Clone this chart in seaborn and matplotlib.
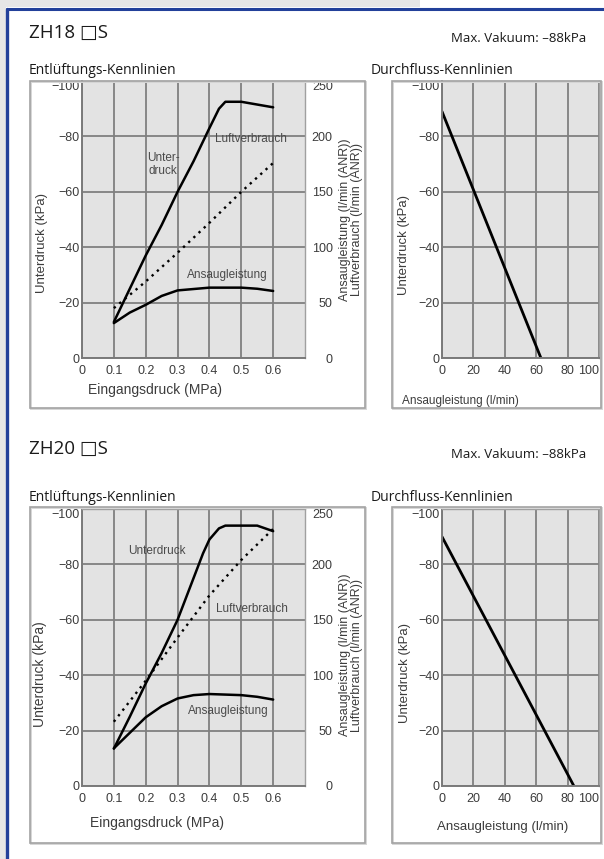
import matplotlib
matplotlib.use("Agg")
import matplotlib.pyplot as plt
import seaborn as sns
import pandas as pd
from matplotlib.patches import Rectangle
from matplotlib.lines import Line2D

# ---------------- data ----------------
titles = ["ZH18 \u25a1S", "ZH20 \u25a1S"]
max_vac = "Max. Vakuum: \u201388kPa"
left_title = "Entlüftungs-Kennlinien"
right_title = "Durchfluss-Kennlinien"

# ZH18 exhaust characteristics
unter18_p = [0.1, 0.15, 0.2, 0.25, 0.3, 0.35, 0.4, 0.43, 0.45, 0.5, 0.55, 0.6]
unter18 = [-13, -25, -37, -48, -60, -71, -83, -90, -92.5, -92.5, -91.5, -90.5]
ansaug18_p = [0.1, 0.15, 0.2, 0.25, 0.3, 0.4, 0.5, 0.55, 0.6]
ansaug18 = [31.5, 41, 48, 56, 61, 63.5, 63.5, 62.5, 60.5]
luft18_p = [0.1, 0.2, 0.3, 0.4, 0.5, 0.6]
luft18 = [45, 69, 95, 122, 150, 176]
# ZH18 flow characteristics
flow18 = [0, 63]
flowvac18 = [-89, 0]

# ZH20 exhaust characteristics
unter20_p = [0.1, 0.15, 0.2, 0.25, 0.3, 0.35, 0.38, 0.4, 0.43, 0.45, 0.5, 0.55, 0.6]
unter20 = [-13.5, -25, -37, -48, -60, -75, -84, -89, -93, -94, -94, -94, -92]
ansaug20_p = [0.1, 0.15, 0.2, 0.25, 0.3, 0.35, 0.4, 0.5, 0.55, 0.6]
ansaug20 = [34, 48, 62, 72, 79, 82, 83, 82, 80.5, 78]
luft20_p = [0.1, 0.2, 0.3, 0.4, 0.5, 0.6]
luft20 = [58, 95, 134, 172, 204, 232]
# ZH20 flow characteristics
flow20 = [0, 84]
flowvac20 = [-90, 0]

kpa_ticks = [0, -20, -40, -60, -80, -100]
kpa_labels = ["0", "\u221220", "\u221240", "\u221260", "\u221280", "\u2212100"]
mpa_ticks = [0, 0.1, 0.2, 0.3, 0.4, 0.5, 0.6]
mpa_labels = ["0", "0.1", "0.2", "0.3", "0.4", "0.5", "0.6"]
lmin_ticks = [0, 50, 100, 150, 200, 250]
lmin_labels = ["0", "50", "100", "150", "200", "250"]
flow_ticks = [0, 20, 40, 60, 80, 100]
flow_labels = ["0", "20", "40", "60", "80", "100"]

# ---------------- figure ----------------
W, H = 604, 859
sns.set_theme(style="white")
plt.rcParams['font.family'] = ['Liberation Sans', 'DejaVu Sans']

fig = plt.figure(figsize=(W / 100, H / 100), dpi=100)
fig.patch.set_facecolor("white")


def fx(x):
    return x / W


def fy(y):
    return 1 - y / H


BLUE = "#22409a"
GRAYBG = "#e6e6e6"
HEAD = ['Open Sans', 'DejaVu Sans']
SMALL = ['Liberation Sans', 'DejaVu Sans']
TXT = "#3c3c3c"

# page decorations
fig.add_artist(Rectangle((0, 0), fx(6), 1, transform=fig.transFigure,
                         facecolor=GRAYBG, edgecolor="none", zorder=0))
fig.add_artist(Rectangle((0, fy(7)), fx(420), 7 / H, transform=fig.transFigure,
                         facecolor=GRAYBG, edgecolor="none", zorder=0))
fig.add_artist(Line2D([fx(7), 1], [fy(8.5), fy(8.5)], transform=fig.transFigure,
                      color=BLUE, lw=2.2, zorder=5))
fig.add_artist(Line2D([fx(7.2), fx(7.2)], [0, fy(8.5)], transform=fig.transFigure,
                      color=BLUE, lw=2.4, zorder=5))


def box(l, t, r, b):
    fig.add_artist(Rectangle((fx(l + 1.2), fy(b + 1.2)), fx(r - l), (b - t) / H,
                             transform=fig.transFigure, facecolor="none",
                             edgecolor="#d6d6d6", lw=1.4, zorder=1))
    fig.add_artist(Rectangle((fx(l), fy(b)), fx(r - l), (b - t) / H,
                             transform=fig.transFigure, facecolor="none",
                             edgecolor="#a3a3a3", lw=1.2, zorder=6))


def make_ax(l, t, r, b):
    return fig.add_axes([fx(l), fy(b), fx(r - l), (b - t) / H])


def style_ax(ax):
    ax.set_facecolor("#e3e3e3")
    ax.grid(True, color="#808080", lw=1.3)
    ax.set_axisbelow(True)
    for s in ["left", "bottom"]:
        ax.spines[s].set_color("#7a7a7a")
        ax.spines[s].set_linewidth(1.4)
    for s in ["top", "right"]:
        ax.spines[s].set_color("#a0a0a0")
        ax.spines[s].set_linewidth(1.0)
    ax.tick_params(length=0, labelsize=9, labelcolor=TXT)
    ax.tick_params(axis="y", pad=1.5)
    ax.tick_params(axis="x", pad=5)
    ax.set_xlabel("")
    ax.set_ylabel("")


def exhaust_panel(top, unter_p, unter, ans_p, ans, luf_p, luf, notes):
    t, b = top, top + 277
    ax = make_ax(82, t, 305, b)
    d1 = pd.DataFrame({"p": unter_p, "v": unter})
    sns.lineplot(data=d1, x="p", y="v", ax=ax, color="black", lw=1.8)
    ax.set_xlim(0, 0.7)
    ax.set_ylim(0, -100)
    ax.set_xticks(mpa_ticks)
    ax.set_xticklabels(mpa_labels)
    ax.set_yticks(kpa_ticks)
    ax.set_yticklabels(kpa_labels)
    style_ax(ax)
    ax.yaxis.get_major_ticks()[-1].label1.set_va("top")

    ax2 = ax.twinx()
    d2 = pd.DataFrame({"p": ans_p, "v": ans})
    d3 = pd.DataFrame({"p": luf_p, "v": luf})
    sns.lineplot(data=d2, x="p", y="v", ax=ax2, color="black", lw=1.8)
    sns.lineplot(data=d3, x="p", y="v", ax=ax2, color="black", lw=1.7,
                 linestyle=(0, (1.0, 2.0)))
    ax2.set_ylim(0, 250)
    ax2.set_yticks(lmin_ticks)
    ax2.set_yticklabels(lmin_labels)
    ax2.tick_params(length=0, labelsize=9, labelcolor=TXT, pad=20)
    for lab in ax2.get_yticklabels():
        lab.set_ha("right")
    ax2.yaxis.get_major_ticks()[-1].label2.set_va("top")
    ax2.set_xlabel("")
    ax2.set_ylabel("")
    for s in ax2.spines.values():
        s.set_visible(False)

    for (x, y, s) in notes:
        ax.text(x, y, s, fontsize=8.5, color="#4a4a4a", ha="center", va="center",
                family=SMALL, linespacing=1.1)
    return ax


def flow_panel(top, fl, fv):
    t, b = top, top + 277
    ax = make_ax(442, t, 599, b)
    d = pd.DataFrame({"q": fl, "v": fv})
    sns.lineplot(data=d, x="q", y="v", ax=ax, color="black", lw=2.0)
    ax.set_xlim(0, 100)
    ax.set_ylim(0, -100)
    ax.set_xticks(flow_ticks)
    ax.set_xticklabels(flow_labels)
    ax.set_yticks(kpa_ticks)
    ax.set_yticklabels(kpa_labels)
    style_ax(ax)
    ax.xaxis.get_major_ticks()[-1].label1.set_ha("right")
    ax.yaxis.get_major_ticks()[-1].label1.set_va("top")
    return ax


# ---- top section (ZH18)
fig.text(fx(29), fy(33), titles[0], fontsize=13.5, family=HEAD, color="#1a1a1a",
         va="center", ha="left")
fig.text(fx(586), fy(39), max_vac, fontsize=9.5, family=HEAD, color="#1a1a1a",
         va="center", ha="right")
fig.text(fx(29), fy(70), left_title, fontsize=10, family=HEAD, color="#1a1a1a",
         va="center", ha="left")
fig.text(fx(371), fy(70), right_title, fontsize=10, family=HEAD, color="#1a1a1a",
         va="center", ha="left")
box(30, 81, 365, 408)
box(392, 81, 601, 408)
exhaust_panel(81, unter18_p, unter18, ansaug18_p, ansaug18, luft18_p, luft18,
              [(0.255, -70, "Unter-\ndruck"), (0.53, -79, "Luftverbrauch"),
               (0.455, -30, "Ansaugleistung")])
flow_panel(81, flow18, flowvac18)
fig.text(fx(155), fy(390), "Eingangsdruck (MPa)", fontsize=10, family=SMALL,
         color=TXT, ha="center", va="center")
fig.text(fx(42), fy(243), "Unterdruck (kPa)", fontsize=9.5, family=SMALL,
         color=TXT, ha="center", va="center", rotation=90)
fig.text(fx(345), fy(220), "Ansaugleistung (l/min (ANR))", fontsize=9,
         family=SMALL, color=TXT, ha="center", va="center", rotation=90)
fig.text(fx(357), fy(220), "Luftverbrauch (l/min (ANR))", fontsize=9,
         family=SMALL, color=TXT, ha="center", va="center", rotation=90)
fig.text(fx(460), fy(401), "Ansaugleistung (l/min)", fontsize=8.5, family=SMALL,
         color=TXT, ha="center", va="center")
fig.text(fx(404), fy(245), "Unterdruck (kPa)", fontsize=9.5, family=SMALL,
         color=TXT, ha="center", va="center", rotation=90)

# ---- bottom section (ZH20)
fig.text(fx(29), fy(449), titles[1], fontsize=13.5, family=HEAD, color="#1a1a1a",
         va="center", ha="left")
fig.text(fx(586), fy(455), max_vac, fontsize=9.5, family=HEAD, color="#1a1a1a",
         va="center", ha="right")
fig.text(fx(29), fy(497), left_title, fontsize=10, family=HEAD, color="#1a1a1a",
         va="center", ha="left")
fig.text(fx(371), fy(497), right_title, fontsize=10, family=HEAD, color="#1a1a1a",
         va="center", ha="left")
box(30, 507, 365, 843)
box(392, 507, 601, 843)
exhaust_panel(509, unter20_p, unter20, ansaug20_p, ansaug20, luft20_p, luft20,
              [(0.235, -85, "Unterdruck"), (0.535, -64, "Luftverbrauch"),
               (0.46, -27, "Ansaugleistung")])
flow_panel(509, flow20, flowvac20)
fig.text(fx(157), fy(823), "Eingangsdruck (MPa)", fontsize=10, family=SMALL,
         color=TXT, ha="center", va="center")
fig.text(fx(40), fy(674), "Unterdruck (kPa)", fontsize=10, family=SMALL,
         color=TXT, ha="center", va="center", rotation=90)
fig.text(fx(345), fy(655), "Ansaugleistung (l/min (ANR))", fontsize=9,
         family=SMALL, color=TXT, ha="center", va="center", rotation=90)
fig.text(fx(357), fy(655), "Luftverbrauch (l/min (ANR))", fontsize=9,
         family=SMALL, color=TXT, ha="center", va="center", rotation=90)
fig.text(fx(503), fy(827), "Ansaugleistung (l/min)", fontsize=9.5, family=SMALL,
         color=TXT, ha="center", va="center")
fig.text(fx(405), fy(673), "Unterdruck (kPa)", fontsize=9.5, family=SMALL,
         color=TXT, ha="center", va="center", rotation=90)

fig.savefig("out.png", dpi=100, facecolor="white")
